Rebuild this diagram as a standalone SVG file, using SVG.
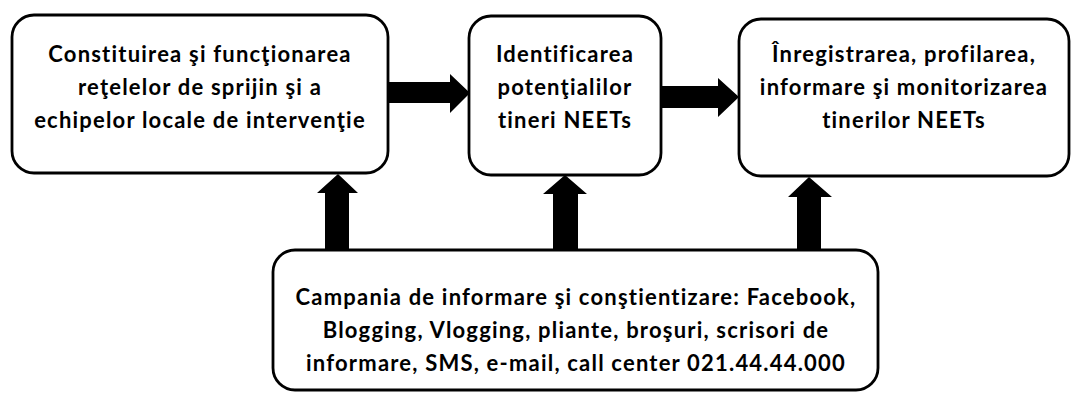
<svg xmlns="http://www.w3.org/2000/svg" width="1071" height="396" viewBox="0 0 1071 396">
<style>
.box{fill:#fff;stroke:#000;stroke-width:2.8}
.t{font-family:Lato,"Liberation Sans",sans-serif;font-weight:bold;font-size:22px;letter-spacing:1.2px;fill:#000;text-anchor:middle}
.arr{fill:#000}
</style>
<rect width="1071" height="396" fill="#fff"/>
<g id="connectors">
<polygon class="arr" points="388,82 450,82 450,74 470,93 450,113 450,103 388,103"/>
<polygon class="arr" points="661,86 718,86 718,78 739,97 718,117 718,108 661,108"/>
<polygon class="arr" points="325,250 325,193 317,193 338,174 358,193 349,193 349,250"/>
<polygon class="arr" points="553,250 553,194 543,194 565,175 587,194 578,194 578,250"/>
<polygon class="arr" points="797,250 797,197 788,197 809,177 832,197 821,197 821,250"/>
</g>
<g id="node1">
<rect class="box" x="12" y="15" width="376" height="158" rx="22"/>
<text class="t" x="200" y="62">Constituirea şi funcţionarea</text>
<text class="t" x="200" y="95">reţelelor de sprijin şi a</text>
<text class="t" x="200" y="128">echipelor locale de intervenţie</text>
</g>
<g id="node2">
<rect class="box" x="469" y="16" width="192" height="159" rx="22"/>
<text class="t" x="565" y="62">Identificarea</text>
<text class="t" x="565" y="95">potenţialilor</text>
<text class="t" x="565" y="128">tineri NEETs</text>
</g>
<g id="node3">
<rect class="box" x="739" y="19" width="330" height="157" rx="22"/>
<text class="t" x="904" y="62">Înregistrarea, profilarea,</text>
<text class="t" x="904" y="95">informare şi monitorizarea</text>
<text class="t" x="904" y="128">tinerilor NEETs</text>
</g>
<g id="node4">
<rect class="box" x="273" y="250" width="605" height="140" rx="22"/>
<text class="t" x="576" y="305">Campania de informare şi conştientizare: Facebook,</text>
<text class="t" x="576" y="338">Blogging, Vlogging, pliante, broşuri, scrisori de</text>
<text class="t" x="576" y="371">informare, SMS, e-mail, call center 021.44.44.000</text>
</g>
</svg>
